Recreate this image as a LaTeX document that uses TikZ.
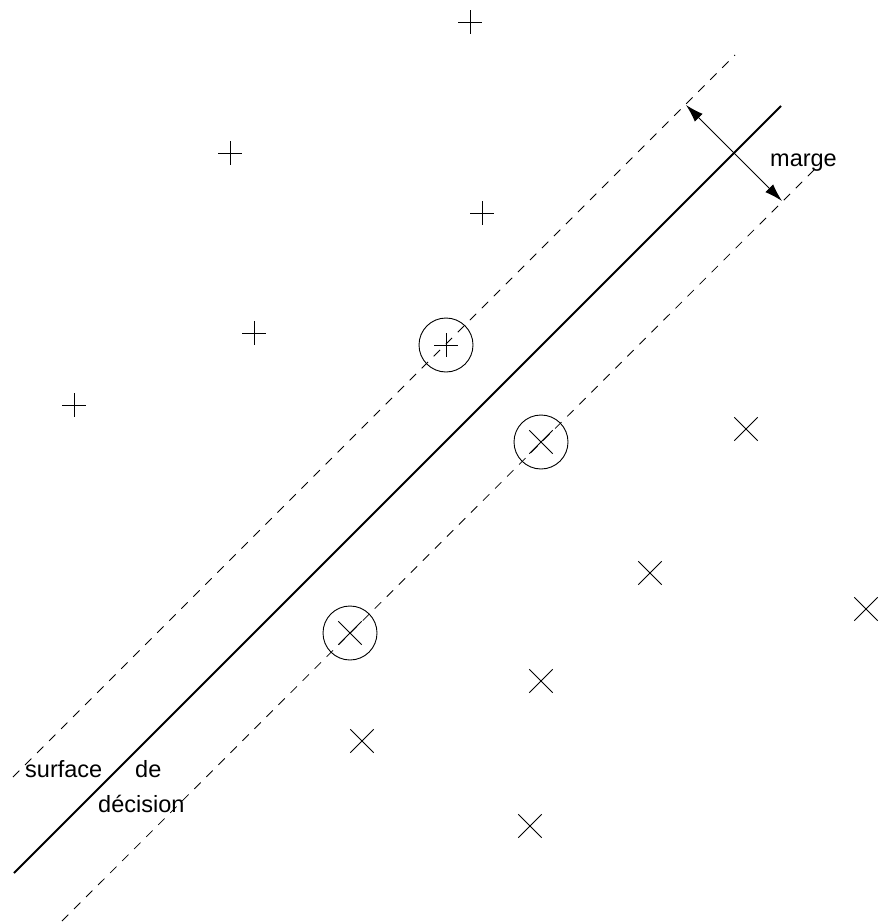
\documentclass[tikz,border=0pt]{standalone}
\usepackage{fontspec}
\setmainfont{Liberation Sans}
\usetikzlibrary{arrows.meta}

\begin{document}
\begin{tikzpicture}[x=1pt, y=-1pt,
    every node/.style={font=\fontsize{23.5}{28}\selectfont, inner sep=0pt},
    sample/.style={line width=0.9pt},
    border/.style={line width=0.8pt, dash pattern=on 9pt off 8pt},
    support/.style={line width=0.9pt}]
    \useasboundingbox (0,0) rectangle (883,923);
    % Decision surface and the two margin borders
    \draw[line width=2pt] (14,873) -- (781,106);
    \draw[border] (13,777) -- (735,55);
    \draw[border] (62,921) -- (817,167);
    % Class + samples
    \foreach \x/\y in {470/22, 230/153, 482/213, 254/333, 74/405, 446/345} {
      \draw[sample] (\x-11.7,\y) -- (\x+11.7,\y) (\x,\y-11.7) -- (\x,\y+11.7);
    }
    % Class x samples
    \foreach \x/\y in {746/429, 650/573, 866/609, 541/681, 362/741, 530/826, 541/442, 350/633} {
      \draw[sample] (\x-11.7,\y-11.7) -- (\x+11.7,\y+11.7) (\x-11.7,\y+11.7) -- (\x+11.7,\y-11.7);
    }
    % Support vectors
    \draw[support] (446,345) circle (27);
    \draw[support] (541,442) circle (27);
    \draw[support] (350,633) circle (27);
    % Margin arrow
    \coordinate (m1) at (686,105);
    \coordinate (m2) at (782,201);
    \draw[line width=0.9pt, {Latex[length=18pt,width=11pt]}-{Latex[length=18pt,width=11pt]}] (m1) -- (m2);
    % Labels
    \node[anchor=base west] (marge) at (770,166) {marge};
    \node[anchor=base west] (surf) at (25,777) {surface};
    \node[anchor=base west] (de) at (135,777) {de};
    \node[anchor=base west] (dec) at (98,812) {décision};
\end{tikzpicture}
\end{document}
